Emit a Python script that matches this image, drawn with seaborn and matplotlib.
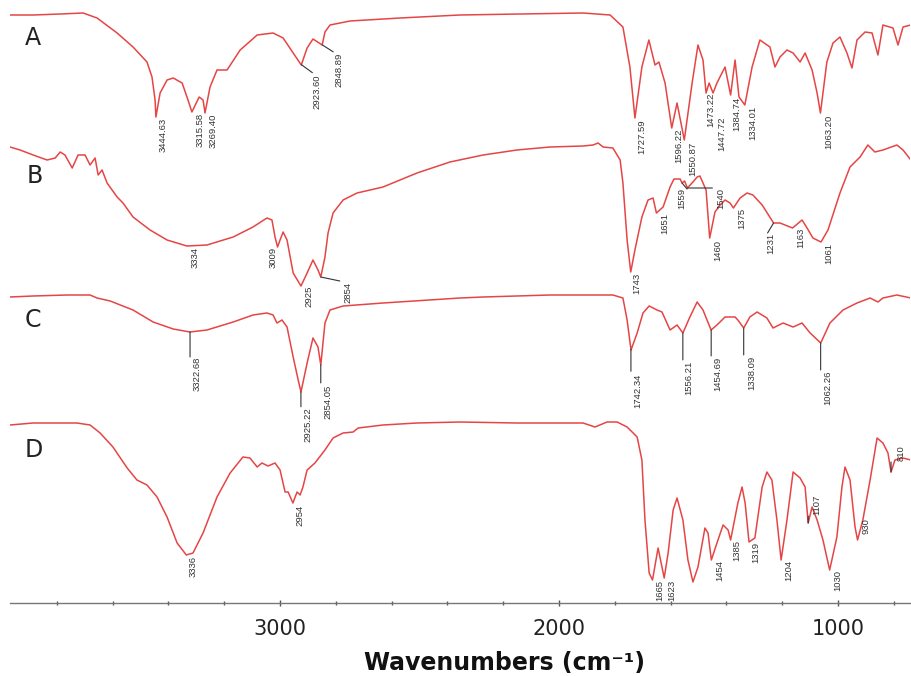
import numpy as np
import pandas as pd
import matplotlib
matplotlib.use("Agg")
import matplotlib.pyplot as plt
from matplotlib.ticker import MultipleLocator, FixedLocator
import seaborn as sns

# FTIR spectra A-D, stacked transmittance (arbitrary units, offsets included)
A_wn = [3968, 3885, 3788, 3706, 3656, 3584, 3527, 3477, 3459, 3448, 3445, 3430, 3405, 3383, 3351,
        3330, 3316, 3290, 3276, 3269, 3251, 3226, 3190, 3143, 3082, 3025, 2989, 2953, 2924, 2903,
        2882, 2849, 2839, 2821, 2749, 2570, 2355, 2140, 1914, 1817, 1771, 1746, 1728, 1703, 1678,
        1656, 1642, 1620, 1596, 1577, 1551, 1523, 1502, 1484, 1473, 1462, 1448, 1434, 1405, 1385,
        1369, 1355, 1334, 1308, 1280, 1244, 1226, 1208, 1183, 1161, 1136, 1118, 1093, 1075, 1063,
        1040, 1018, 993, 968, 950, 932, 903, 878, 857, 839, 803, 785, 767, 739]
A_T = [588, 588, 589, 590, 585, 570, 556, 541, 526, 503, 486, 510, 523, 525, 520,
       503, 491, 506, 503, 490, 516, 533, 533, 553, 568, 570, 565, 550, 538, 555,
       564, 558, 571, 578, 582, 585, 588, 589, 590, 588, 576, 536, 485, 536, 563,
       538, 541, 520, 475, 500, 463, 520, 558, 543, 510, 520, 510, 520, 536, 508,
       543, 506, 498, 536, 563, 556, 536, 546, 553, 550, 541, 550, 533, 510, 490,
       541, 560, 566, 550, 535, 563, 571, 570, 548, 578, 575, 558, 576, 578]

B_wn = [3968, 3932, 3885, 3835, 3806, 3788, 3771, 3745, 3724, 3699, 3681, 3663, 3652, 3638, 3620,
        3584, 3563, 3527, 3466, 3405, 3334, 3262, 3168, 3097, 3047, 3029, 3018, 3009, 3000, 2989,
        2975, 2953, 2925, 2903, 2882, 2864, 2854, 2839, 2828, 2810, 2774, 2724, 2631, 2509, 2391,
        2272, 2151, 2032, 1914, 1878, 1860, 1842, 1807, 1781, 1771, 1756, 1743, 1728, 1703, 1681,
        1663, 1651, 1627, 1602, 1588, 1566, 1559, 1550, 1540, 1520, 1505, 1495, 1484, 1473, 1460,
        1441, 1423, 1405, 1387, 1375, 1351, 1326, 1305, 1272, 1231, 1208, 1163, 1129, 1111, 1090,
        1061, 1036, 993, 957, 921, 893, 868, 839, 789, 767, 739]
B_T = [456, 453, 448, 443, 445, 451, 448, 435, 448, 448, 438, 445, 428, 433, 420,
       406, 400, 386, 373, 363, 357, 358, 366, 376, 385, 383, 366, 356, 363, 371,
       363, 330, 317, 330, 343, 333, 326, 346, 370, 390, 403, 410, 416, 430, 441,
       448, 453, 456, 457, 458, 460, 456, 455, 443, 420, 363, 331, 353, 386, 403,
       405, 390, 396, 416, 424, 424, 420, 422, 415, 421, 426, 427, 420, 413, 365,
       391, 398, 403, 400, 395, 405, 410, 408, 398, 380, 380, 375, 383, 375, 365,
       361, 373, 410, 436, 446, 458, 451, 453, 458, 453, 443]

C_wn = [3968, 3885, 3763, 3681, 3656, 3609, 3527, 3455, 3383, 3323, 3262, 3168, 3097, 3047,
        3025, 3011, 2993, 2975, 2953, 2935, 2925, 2903, 2882, 2864, 2854, 2839, 2821, 2774,
        2631, 2355, 2272, 2032, 1807, 1771, 1756, 1742, 1720, 1699, 1677, 1649, 1631, 1602,
        1577, 1556, 1531, 1505, 1484, 1455, 1434, 1405, 1369, 1359, 1338, 1316, 1290, 1255,
        1233, 1197, 1161, 1129, 1100, 1062, 1029, 982, 932, 885, 857, 839, 789, 739]
C_T = [306, 307, 308, 308, 305, 302, 293, 281, 274, 271, 273, 281, 288, 290,
       288, 280, 283, 276, 246, 223, 211, 240, 265, 256, 238, 280, 293, 297,
       300, 305, 306, 308, 308, 305, 283, 253, 270, 290, 297, 293, 291, 273,
       278, 270, 286, 301, 293, 273, 278, 286, 286, 283, 275, 286, 291, 285,
       275, 280, 276, 280, 270, 260, 280, 293, 300, 305, 301, 305, 308, 305]

D_wn = [3968, 3885, 3728, 3681, 3645, 3599, 3548, 3513, 3477, 3441, 3405, 3369, 3336, 3312,
        3276, 3226, 3179, 3133, 3108, 3082, 3065, 3043, 3018, 3000, 2982, 2971, 2954, 2939,
        2928, 2918, 2903, 2875, 2839, 2810, 2774, 2738, 2720, 2631, 2509, 2355, 2151, 1914,
        1871, 1828, 1792, 1756, 1720, 1703, 1692, 1677, 1665, 1645, 1623, 1609, 1591, 1577,
        1556, 1538, 1520, 1502, 1477, 1466, 1454, 1434, 1412, 1394, 1385, 1359, 1344, 1333,
        1319, 1298, 1272, 1255, 1237, 1219, 1204, 1183, 1161, 1136, 1118, 1107, 1093, 1075,
        1054, 1030, 1004, 986, 975, 957, 939, 930, 911, 885, 860, 839, 821, 810, 796, 767, 739]
D_T = [178, 180, 180, 178, 170, 156, 135, 123, 118, 106, 86, 60, 48, 50,
       70, 106, 130, 146, 145, 136, 140, 137, 140, 133, 111, 111, 100, 111,
       108, 116, 133, 140, 153, 165, 170, 171, 175, 178, 180, 181, 180, 180,
       176, 181, 181, 176, 166, 143, 83, 30, 23, 55, 25, 50, 93, 105,
       83, 43, 21, 36, 75, 70, 43, 60, 78, 73, 63, 100, 116, 100,
       61, 65, 116, 131, 123, 83, 43, 83, 131, 125, 116, 80, 96, 83,
       63, 33, 66, 116, 136, 123, 76, 63, 83, 123, 165, 160, 150, 131, 143, 145, 143]

# peak labels
A_peaks = ["3444.63", "3315.58", "3269.40", "2923.60", "2848.89", "1727.59", "1596.22",
           "1550.87", "1473.22", "1447.72", "1384.74", "1334.01", "1063.20"]
B_peaks = ["3334", "3009", "2925", "2854", "1743", "1651", "1559", "1540", "1460",
           "1375", "1231", "1163", "1061"]
C_peaks = ["3322.68", "2925.22", "2854.05", "1742.34", "1556.21", "1454.69", "1338.09", "1062.26"]
D_peaks = ["3336", "2954", "1665", "1623", "1454", "1385", "1319", "1204", "1107",
           "1030", "930", "810"]

# label placement: (dx, dy down, leader end) in pixels from the peak
A_layout = [(7, 1, None), (8, 1, None), (8, 1, None), (16, 10, (11, 8)), (17, 8, (11, 7)),
            (7, 2, None), (7, 1, None), (8, 2, None), (5, 0, None), (9, 24, None),
            (6, 2, None), (8, 1, None), (8, 2, None)]
B_layout = [(8, 1, None), (-4, 0, None), (8, 0, None), (27, 5, (19, 4)), (6, 1, None),
            (8, 0, None), (0, 5, (5, 6)), (33, 0, (25, 0)), (8, 2, None), (8, 0, None),
            (-3, 10, (-6, 10)), (8, 0, None), (8, 1, None)]
C_layout = [(7, 25, (0, 25)), (7, 16, (0, 15)), (7, 20, (0, 18)), (7, 24, (0, 22)),
            (6, 28, (0, 27)), (7, 27, (0, 26)), (8, 28, (0, 27)), (7, 28, (0, 27))]
D_layout = [(7, 1, None), (7, 2, None), (7, 0, None), (8, 2, None), (8, 0, None),
            (6, 0, None), (7, 0, None), (8, 0, None), (9, -28, (0, -7)), (8, 0, None),
            (8, -22, None), (10, -27, (0, -10))]

RED = "#e64545"
INK = "#333333"

sns.set_theme(style="white")
plt.rcParams["font.family"] = ["DejaVu Sans"]

fig = plt.figure(figsize=(9.11, 6.76), dpi=100)
ax = fig.add_axes([10 / 911, 73 / 676, 900 / 911, 603 / 676])

frames = []
for name, wn, T in [("A", A_wn, A_T), ("B", B_wn, B_T), ("C", C_wn, C_T), ("D", D_wn, D_T)]:
    frames.append(pd.DataFrame({"wn": wn, "T": T, "sample": name}))
df = pd.concat(frames, ignore_index=True)

sns.lineplot(data=df, x="wn", y="T", hue="sample", palette={k: RED for k in "ABCD"},
             estimator=None, sort=False, legend=False, lw=1.1, ax=ax)


def label_peaks(ax, wn, T, labels, layout):
    xs = np.asarray(wn, float)[::-1]
    ys = np.asarray(T, float)[::-1]
    for lab, (dx, dy, lead) in zip(labels, layout):
        w = float(lab)
        y = np.interp(w, xs, ys)
        if lead:
            ax.annotate("", xy=(w, y), xytext=(lead[0], -lead[1]), textcoords="offset pixels",
                        arrowprops=dict(arrowstyle="-", color=INK, lw=0.8, shrinkA=0, shrinkB=0))
        ax.annotate(lab, xy=(w, y), xytext=(dx, -dy), textcoords="offset pixels",
                    rotation=90, ha="center", va="top", fontsize=6.8,
                    family="Liberation Sans", color=INK)


label_peaks(ax, A_wn, A_T, A_peaks, A_layout)
label_peaks(ax, B_wn, B_T, B_peaks, B_layout)
label_peaks(ax, C_wn, C_T, C_peaks, C_layout)
label_peaks(ax, D_wn, D_T, D_peaks, D_layout)

ax.set_xlim(3968, 742)
ax.set_ylim(0, 603)
ax.set_xlabel("")
ax.set_ylabel("")
ax.set_yticks([])
for s in ["left", "right", "top"]:
    ax.spines[s].set_visible(False)
ax.spines["bottom"].set_color("#777777")
ax.spines["bottom"].set_linewidth(1.0)
ax.xaxis.set_major_locator(FixedLocator([1000, 2000, 3000]))
ax.xaxis.set_minor_locator(MultipleLocator(200))
ax.tick_params(axis="x", which="major", direction="inout", length=5, width=1,
               color="#555555", labelsize=15, labelcolor="#222222", pad=9, bottom=True)
ax.tick_params(axis="x", which="minor", direction="inout", length=3, width=1,
               color="#555555", bottom=True)

for letter, x, y in [("A", 25, 45), ("B", 27, 183), ("C", 25, 327), ("D", 25, 457)]:
    fig.text(x / 911, 1 - y / 676, letter, fontsize=17, ha="left", va="baseline", color="#222222")

fig.text(505 / 911, 1 - 663 / 676, "Wavenumbers (cm⁻¹)", ha="center", va="center",
         fontsize=17, fontweight="bold", color="#111111")

fig.savefig("out.png", dpi=100)
